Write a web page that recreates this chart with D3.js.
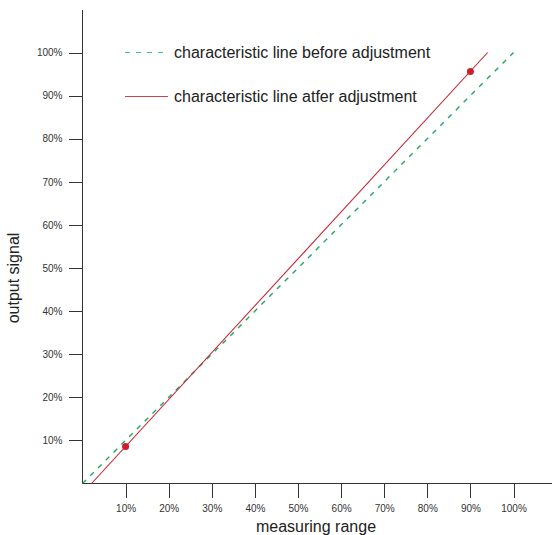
<!DOCTYPE html>
<html>
<head>
<style>
body { margin: 0; background: #fff; font-family: "Liberation Sans", Arial, sans-serif; }
.axis text { font: 10px "Liberation Sans", Arial, sans-serif; fill: #333; }
.axis line { stroke: #333; shape-rendering: crispEdges; }
.legend text { font: 16px "Liberation Sans", Arial, sans-serif; fill: #222; }
.title { font: 16px "Liberation Sans", Arial, sans-serif; fill: #222; }
</style>
</head>
<body>
<div id="chart"></div>
<script src="https://d3js.org/d3.v7.min.js"></script>
<script>
// percent ticks on both axes
var tickValues = [10, 20, 30, 40, 50, 60, 70, 80, 90, 100];
var tickLabels = ["10%", "20%", "30%", "40%", "50%", "60%", "70%", "80%", "90%", "100%"];

// characteristic lines [measuring range %, output signal %]
var lineBefore = [[0, 0], [100, 100]];
var lineAfter = [[2.1, 0], [94, 100]];
// adjustment points
var adjustPoints = [[10, 8.6], [90, 95.6]];

var seriesNames = ["characteristic line before adjustment", "characteristic line atfer adjustment"];
var green = "#1daa5e", red = "#c9202c";

var width = 552, height = 535;

var svg = d3.select("#chart").append("svg")
  .attr("width", width)
  .attr("height", height);

var x = d3.scaleLinear().domain([0, 100]).range([82.5, 513.5]);
var y = d3.scaleLinear().domain([0, 100]).range([483.5, 52.5]);

var xAxis = d3.axisBottom(x).tickValues(tickValues)
  .tickFormat((d, i) => tickLabels[i]).tickSize(14).tickPadding(7).tickSizeOuter(0);
var yAxis = d3.axisLeft(y).tickValues(tickValues)
  .tickFormat((d, i) => tickLabels[i]).tickSize(14).tickPadding(6).tickSizeOuter(0);

var gx = svg.append("g").attr("class", "axis")
  .attr("transform", `translate(0,${y(0)})`).call(xAxis);
gx.select(".domain").remove();
gx.append("line").attr("x1", x(0)).attr("x2", width).attr("y1", 0).attr("y2", 0);

var gy = svg.append("g").attr("class", "axis")
  .attr("transform", `translate(${x(0)},0)`).call(yAxis);
gy.select(".domain").remove();
gy.append("line").attr("x1", 0).attr("x2", 0).attr("y1", y(0)).attr("y2", 10);

var line = d3.line().x(d => x(d[0])).y(d => y(d[1]));

svg.append("path").datum(lineBefore)
  .attr("d", line)
  .attr("fill", "none")
  .attr("stroke", green)
  .attr("stroke-width", 1.4)
  .attr("stroke-dasharray", "5,6");

svg.append("path").datum(lineAfter)
  .attr("d", line)
  .attr("fill", "none")
  .attr("stroke", red)
  .attr("stroke-width", 1.1);

svg.selectAll(".pt").data(adjustPoints).enter().append("circle")
  .attr("class", "pt")
  .attr("cx", d => x(d[0]))
  .attr("cy", d => y(d[1]))
  .attr("r", 3.5)
  .attr("fill", red);

/* legend */
var legend = svg.append("g").attr("class", "legend");
seriesNames.forEach(function(name, i) {
  var ly = 52 + i * 44;
  legend.append("line")
    .attr("x1", 125).attr("x2", 168)
    .attr("y1", ly + 0.5).attr("y2", ly + 0.5)
    .attr("stroke", i == 0 ? "#3cc07e" : "#d0454c")
    .attr("stroke-width", 1.2)
    .attr("stroke-dasharray", i == 0 ? "5,6" : null);
  legend.append("text")
    .attr("x", 174).attr("y", ly + 6)
    .text(name);
});

svg.append("text").attr("class", "title")
  .attr("x", 316).attr("y", 532)
  .attr("text-anchor", "middle")
  .text("measuring range");

svg.append("text").attr("class", "title")
  .attr("transform", "translate(19,278) rotate(-90)")
  .attr("text-anchor", "middle")
  .text("output signal");
</script>
</body>
</html>
